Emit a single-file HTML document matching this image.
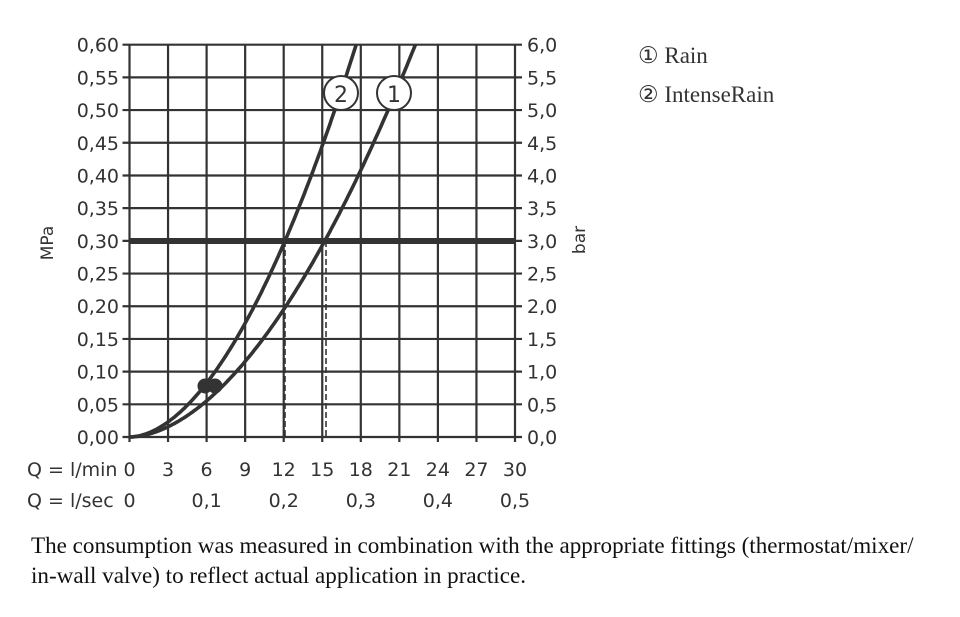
<!DOCTYPE html>
<html><head><meta charset="utf-8"><style>
html,body{margin:0;padding:0;background:#fff;}
body{width:960px;height:612px;overflow:hidden;position:relative;}
svg text{font-family:"DejaVu Sans","Liberation Sans",sans-serif;fill:#333;}
.cap{position:absolute;left:31px;top:530px;font-family:"Liberation Serif",serif;font-size:23.1px;line-height:30px;color:#111;white-space:nowrap;}
</style></head><body>
<svg id="s" width="960" height="612" xmlns="http://www.w3.org/2000/svg">
<g id="grid" stroke="#333" stroke-width="2.2"></g>
<line x1="129.5" y1="241" x2="515" y2="241" stroke="#333" stroke-width="6"/>
<line x1="285" y1="241" x2="285" y2="437" stroke="#333" stroke-width="1.6" stroke-dasharray="6,3"/>
<line x1="326" y1="241" x2="326" y2="437" stroke="#333" stroke-width="1.6" stroke-dasharray="6,3"/>
<path id="c1" fill="none" stroke="#333" stroke-width="3.6"/>
<path id="c2" fill="none" stroke="#333" stroke-width="3.6"/>
<circle cx="205" cy="386" r="7.5" fill="#333"/>
<circle cx="215" cy="386" r="7.5" fill="#333"/>
<circle cx="341" cy="93" r="17" fill="#fff" stroke="#333" stroke-width="2"/>
<text x="341" y="102" font-size="22" text-anchor="middle">2</text>
<circle cx="394" cy="93" r="17" fill="#fff" stroke="#333" stroke-width="2"/>
<text x="394" y="102" font-size="22" text-anchor="middle">1</text>
<g id="lab" font-size="19"></g>
<text transform="translate(53,243) rotate(-90)" font-size="17" text-anchor="middle">MPa</text>
<text transform="translate(585,240) rotate(-90)" font-size="17" text-anchor="middle">bar</text>
<text x="27" y="476" font-size="19">Q = l/min</text>
<text x="27" y="507" font-size="19">Q = l/sec</text>
<text x="638" y="63" font-size="23" style="font-family:'Liberation Serif',serif" fill="#111">① Rain</text>
<text x="638" y="102" font-size="23" style="font-family:'Liberation Serif',serif" fill="#111">② IntenseRain</text>
</svg>
<div class="cap">The consumption was measured in combination with the appropriate fittings (thermostat/mixer/<br>in-wall valve) to reflect actual application in practice.</div>
<script>
var NS="http://www.w3.org/2000/svg";
var x0=129.5,x1=515,y0=437,yt=44.7;
function X(q){return x0+(x1-x0)*q/30;}
function Y(p){return y0-(y0-yt)*p/0.6;}
var g=document.getElementById('grid'),lab=document.getElementById('lab');
function ln(a,b,c,d){var l=document.createElementNS(NS,'line');l.setAttribute('x1',a);l.setAttribute('y1',b);l.setAttribute('x2',c);l.setAttribute('y2',d);g.appendChild(l);}
function tx(x,y,s,anc){var t=document.createElementNS(NS,'text');t.setAttribute('x',x);t.setAttribute('y',y);t.setAttribute('text-anchor',anc);t.textContent=s;lab.appendChild(t);}
for(var i=0;i<=10;i++){var x=X(i*3);ln(x,yt,x,y0+5);tx(x,476,String(i*3),'middle');}
for(var j=0;j<=12;j++){var p=j*0.05,y=Y(p);ln(x0-7,y,x1+7,y);
tx(119,y+7,p.toFixed(2).replace('.',','),'end');tx(527,y+7,(p*10).toFixed(1).replace('.',','),'start');}
['0','0,1','0,2','0,3','0,4','0,5'].forEach(function(s,k){tx(X(k*6),507,s,'middle');});
function curve(id,q0,n){var d='';for(var q=0;q<=30;q+=0.1){var p=0.3*Math.pow(q/q0,n);if(p>0.6){var qe=q0*Math.pow(2,1/n);d+='L'+X(qe).toFixed(1)+','+Y(0.6).toFixed(1);break;}d+=(d?'L':'M')+X(q).toFixed(1)+','+Y(p).toFixed(1);}document.getElementById(id).setAttribute('d',d);}
curve('c2',12.1,1.84);curve('c1',15.2,1.82);
</script>
</body></html>
